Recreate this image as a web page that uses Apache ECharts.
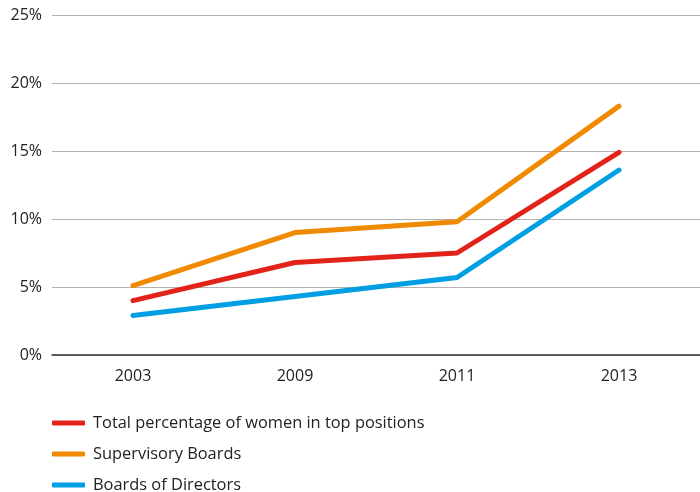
<!DOCTYPE html>
<html>
<head>
<meta charset="utf-8">
<script src="https://cdn.jsdelivr.net/npm/echarts@6/dist/echarts.min.js"></script>
<style>
  html, body { margin: 0; padding: 0; background: #fff; }
  #chart { width: 700px; height: 492px; }
</style>
</head>
<body>
<div id="chart"></div>
<script>
// Share of women in top positions, by year
const years = ['2003', '2009', '2011', '2013'];
const totalShare = [4.0, 6.8, 7.5, 14.9];
const supervisoryBoards = [5.1, 9.0, 9.8, 18.3];
const boardsOfDirectors = [2.9, 4.3, 5.7, 13.6];
const seriesNames = ['Total percentage of women in top positions', 'Supervisory Boards', 'Boards of Directors'];
const seriesColors = ['#e2231a', '#f08a00', '#009fe3'];

const font = '"Open Sans", Lato, sans-serif';
const textColor = '#222';

function lineSeries(name, data, color) {
  return {
    name: name,
    type: 'line',
    data: data,
    symbol: 'none',
    color: color,
    lineStyle: { width: 5, color: color, cap: 'round', join: 'round' },
    emphasis: { disabled: true }
  };
}

// one legend row per series, stacked below the plot
const legendTops = [415, 446, 477];
const legends = seriesNames.map(function (name, i) {
  return {
    left: 52,
    top: legendTops[i],
    padding: 0,
    itemWidth: 33,
    itemHeight: 5,
    icon: 'roundRect',
    textStyle: { fontFamily: font, fontSize: 16.4, color: textColor, padding: [0, 0, 0, 3] },
    data: [name]
  };
});

const chart = echarts.init(document.getElementById('chart'), null, { renderer: 'canvas' });
chart.setOption({
  animation: false,
  backgroundColor: '#ffffff',
  grid: { left: 52, right: 0, top: 15, bottom: 137, containLabel: false },
  legend: legends,
  xAxis: {
    type: 'category',
    data: years,
    boundaryGap: true,
    axisLine: { lineStyle: { color: '#333', width: 1.5 } },
    axisTick: { show: false },
    axisLabel: { fontFamily: font, fontSize: 16, color: textColor, margin: 13 }
  },
  yAxis: {
    type: 'value',
    min: 0,
    max: 25,
    interval: 5,
    axisLine: { show: false },
    axisTick: { show: false },
    axisLabel: { fontFamily: font, fontSize: 16, color: textColor, margin: 10, formatter: '{value}%' },
    splitLine: { lineStyle: { color: '#b3b3b3', width: 1.2 } }
  },
  series: [
    lineSeries(seriesNames[0], totalShare, seriesColors[0]),
    lineSeries(seriesNames[1], supervisoryBoards, seriesColors[1]),
    lineSeries(seriesNames[2], boardsOfDirectors, seriesColors[2])
  ]
});
</script>
</body>
</html>
